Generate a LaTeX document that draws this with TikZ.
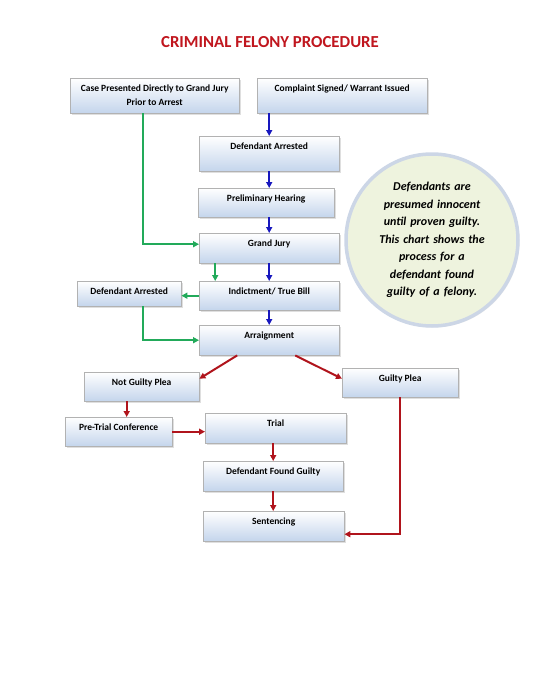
\documentclass[tikz,border=0pt]{standalone}
\usepackage{fontspec}
\setmainfont{Carlito}
\usetikzlibrary{arrows.meta,shadows}
\definecolor{boxblue}{RGB}{196,213,236}
\definecolor{titlered}{RGB}{192,22,30}
\definecolor{arrowblue}{RGB}{24,24,190}
\definecolor{arrowgreen}{RGB}{34,170,90}
\definecolor{arrowred}{RGB}{176,20,28}
\definecolor{notegreen}{RGB}{238,243,222}
\definecolor{noteblue}{RGB}{204,214,230}
\begin{document}
\begin{tikzpicture}[x=1pt, y=-1pt, every node/.style={font=\bfseries\fontsize{9.5}{14}\selectfont}]
  \tikzstyle{stage}=[draw=gray!60, top color=white, bottom color=boxblue, anchor=north west, inner sep=0pt, text height=13pt, align=center,
    drop shadow={opacity=0.25, shadow xshift=1.5pt, shadow yshift=-1.5pt}]
  \tikzstyle{blu}=[-{Triangle[length=6pt,width=6pt]}, line width=2pt, draw=arrowblue]
  \tikzstyle{grn}=[-{Triangle[length=6pt,width=6pt]}, line width=2pt, draw=arrowgreen]
  \tikzstyle{rd}=[-{Triangle[length=6pt,width=6pt]}, line width=2pt, draw=arrowred]
  \useasboundingbox (0,0) rectangle (540,699);
  \node[font=\bfseries\fontsize{16.8}{20}\selectfont, text=titlered] (title) at (270,42) {CRIMINAL FELONY PROCEDURE};
  % top row
  \node[stage, minimum width=169pt, text height=27pt, text depth=8pt] (case) at (70,78) {Case Presented Directly to Grand Jury\\Prior to Arrest};
  \node[stage, minimum width=170pt, text depth=22pt] (complaint) at (257,78) {Complaint Signed/ Warrant Issued};
  % main column
  \node[stage, minimum width=140pt, text depth=22pt] (arrA) at (199,136) {Defendant Arrested};
  \node[stage, minimum width=136pt, text depth=16pt] (prelim) at (198,188) {Preliminary Hearing};
  \node[stage, minimum width=140pt, text depth=17pt] (gjury) at (199,233) {Grand Jury};
  \node[stage, minimum width=140pt, text depth=16pt] (indict) at (199,281) {Indictment/ True Bill};
  \node[stage, minimum width=104pt, text depth=12pt] (arrB) at (77,281) {Defendant Arrested};
  \node[stage, minimum width=140pt, text depth=17pt] (arraign) at (199,325) {Arraignment};
  % pleas and trial
  \node[stage, minimum width=115pt, text depth=16pt] (notg) at (84,372) {Not Guilty Plea};
  \node[stage, minimum width=116pt, text depth=16pt] (guilty) at (342,368) {Guilty Plea};
  \node[stage, minimum width=107pt, text depth=16pt] (pretrial) at (65,417) {Pre-Trial Conference};
  \node[stage, minimum width=141pt, text depth=17pt] (trial) at (205,413) {Trial};
  \node[stage, minimum width=140pt, text depth=17pt] (found) at (203,461) {Defendant Found Guilty};
  \node[stage, minimum width=141pt, text depth=17pt] (sent) at (203,511) {Sentencing};
  % note
  \node[circle, minimum size=172pt, fill=notegreen, draw=noteblue, line width=3.5pt, text width=118pt, align=center, inner sep=0pt,
    font=\bfseries\itshape\fontsize{12}{17.5}\selectfont, drop shadow={opacity=0.15, shadow xshift=1.5pt, shadow yshift=-1.5pt}] (note) at (432,240)
    {Defendants are\\presumed innocent\\until proven guilty.\\This chart shows the\\process for a\\defendant found\\guilty of a felony.};
  % blue path
  \draw[blu] (arrA.north |- complaint.south) -- (arrA.north);
  \draw[blu] (arrA.south) -- (arrA.south |- prelim.north);
  \draw[blu] (prelim.south -| arrA.south) -- (arrA.south |- gjury.north);
  \draw[blu] (gjury.south) -- (indict.north);
  \draw[blu] (indict.south) -- (arraign.north);
  % green path
  \draw[grn] ([xshift=-11.5pt]case.south) |- ([yshift=4pt]gjury.west);
  \draw[grn] ([xshift=-54pt]gjury.south) -- ([xshift=-54pt]gjury.south |- indict.north);
  \draw[grn] (indict.west) -- (indict.west -| arrB.east);
  \draw[grn] ([xshift=14pt]arrB.south) |- (arraign.west);
  % red path
  \draw[rd] ([xshift=-32pt]arraign.south) -- ([yshift=8pt]notg.east);
  \draw[rd] ([xshift=26pt]arraign.south) -- ([yshift=4pt]guilty.west);
  \draw[rd] ([xshift=-15pt]notg.south) -- ([xshift=-15pt]notg.south |- pretrial.north);
  \draw[rd] (pretrial.east) -- (pretrial.east -| trial.west);
  \draw[rd] (found.north |- trial.south) -- (found.north);
  \draw[rd] (found.south) -- (found.south |- sent.north);
  \draw[rd] (guilty.south) |- ([yshift=-8pt]sent.east);
\end{tikzpicture}
\end{document}
